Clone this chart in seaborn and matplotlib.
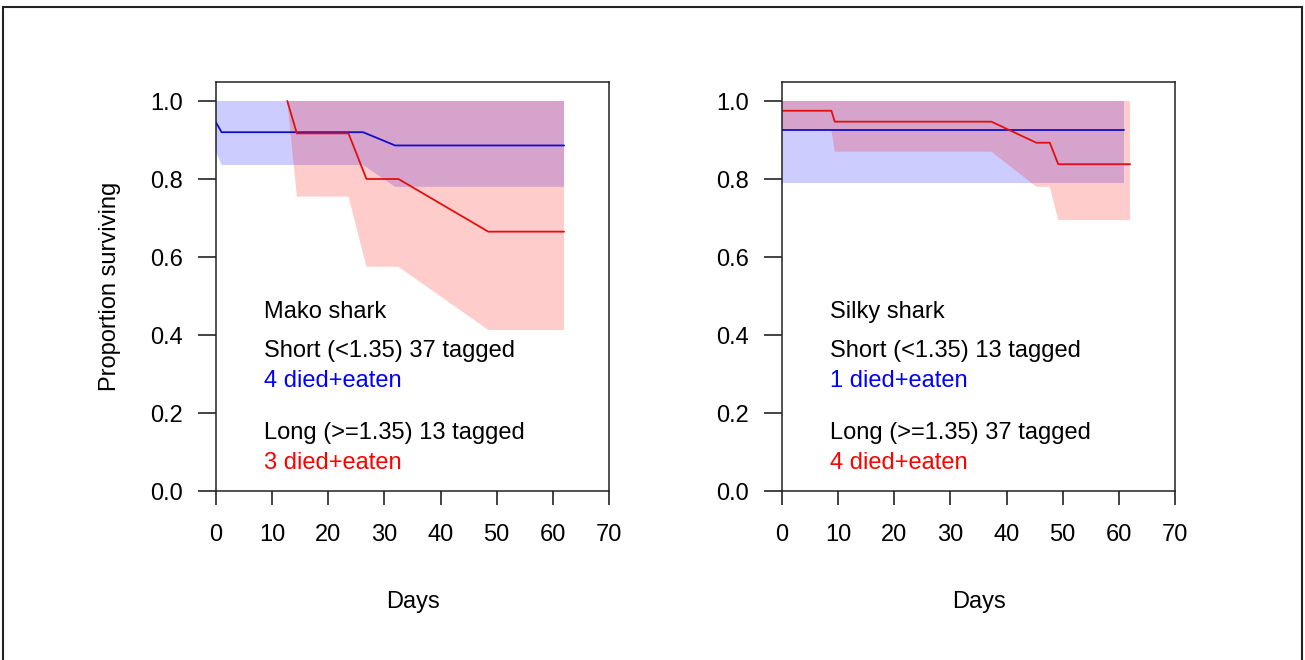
import numpy as np
import pandas as pd
import matplotlib
matplotlib.use("Agg")
import matplotlib.pyplot as plt
import seaborn as sns

# ---------------- data ----------------
# Mako shark, short group (blue)
mako_short_days = [0, 1, 26.2, 31.9, 62]
mako_short_surv = [0.945, 0.92, 0.92, 0.886, 0.886]
mako_short_lower = [0.87, 0.836, 0.836, 0.78, 0.78]
mako_short_upper = [1.0, 1.0, 1.0, 1.0, 1.0]

# Mako shark, long group (red)
mako_long_days = [12.7, 14.4, 23.6, 26.8, 32.5, 48.5, 62]
mako_long_surv = [1.0, 0.917, 0.917, 0.80, 0.80, 0.665, 0.665]
mako_long_lower = [1.0, 0.755, 0.755, 0.575, 0.575, 0.413, 0.413]
mako_long_upper = [1.0, 1.0, 1.0, 1.0, 1.0, 1.0, 1.0]

# Silky shark, short group (blue)
silky_short_days = [0, 61]
silky_short_surv = [0.926, 0.926]
silky_short_lower = [0.789, 0.789]
silky_short_upper = [1.0, 1.0]

# Silky shark, long group (red)
silky_long_days = [0, 8.8, 9.4, 37.3, 45.3, 47.7, 49.2, 62]
silky_long_surv = [0.975, 0.975, 0.947, 0.947, 0.893, 0.893, 0.838, 0.838]
silky_long_lower = [0.926, 0.926, 0.870, 0.870, 0.78, 0.78, 0.695, 0.695]
silky_long_upper = [1.0, 1.0, 1.0, 1.0, 1.0, 1.0, 1.0, 1.0]

mako_texts = ["Mako shark", "Short (<1.35) 37 tagged", "4 died+eaten",
              "Long (>=1.35) 13 tagged", "3 died+eaten"]
silky_texts = ["Silky shark", "Short (<1.35) 13 tagged", "1 died+eaten",
               "Long (>=1.35) 37 tagged", "4 died+eaten"]

x_ticks = [0, 10, 20, 30, 40, 50, 60, 70]
y_ticks = [0.0, 0.2, 0.4, 0.6, 0.8, 1.0]
x_label = "Days"
y_label = "Proportion surviving"

# ---------------- layout / style ----------------
sns.set_style("ticks")
plt.rcParams['font.family'] = ['Liberation Sans', 'DejaVu Sans']
plt.rcParams['text.color'] = 'black'
plt.rcParams['axes.labelcolor'] = 'black'
FS = 17
text_colors = ["black", "black", "blue", "black", "red"]
text_x = 8.5
text_y = [0.444, 0.344, 0.267, 0.133, 0.056]

W, H = 1305, 660
fig = plt.figure(figsize=(W / 100, H / 100), dpi=100)
fig.patch.set_facecolor("white")

ax_w = 393 / W
ax_h = 409.5 / H
ax_b = (H - 491) / H
ax1 = fig.add_axes([216 / W, ax_b, ax_w, ax_h])
ax2 = fig.add_axes([782 / W, ax_b, ax_w, ax_h])


def draw_panel(ax, sd, ss, sl, su, ld, ls, ll, lu, texts):
    ax.fill_between(sd, sl, su, color=(0, 0, 1, 0.2), edgecolor="none", lw=0)
    sns.lineplot(x=sd, y=ss, ax=ax, color="#1010c8", lw=1.3,
                 estimator=None, sort=False, legend=False)
    ax.fill_between(ld, ll, lu, color=(1, 0, 0, 0.2), edgecolor="none", lw=0)
    sns.lineplot(x=ld, y=ls, ax=ax, color="#e01010", lw=1.3,
                 estimator=None, sort=False, legend=False)
    for s, c, y in zip(texts, text_colors, text_y):
        ax.text(text_x, y, s, color=c, fontsize=FS, ha="left", va="baseline")

    ax.set_xlim(0, 70)
    ax.set_ylim(0, 1.05)
    ax.set_xticks(x_ticks)
    ax.set_xticklabels([str(t) for t in x_ticks])
    ax.set_yticks(y_ticks)
    ax.set_yticklabels([f"{t:.1f}" for t in y_ticks])
    ax.tick_params(axis="x", direction="out", length=10, width=1.1,
                   pad=14, labelsize=FS, color="#111111", labelcolor="black")
    ax.tick_params(axis="y", direction="out", length=13, width=1.1,
                   pad=11, labelsize=FS, color="#111111", labelcolor="black")
    for sp in ax.spines.values():
        sp.set_visible(True)
        sp.set_linewidth(1.1)
        sp.set_color("#222222")
    ax.set_xlabel(x_label, fontsize=FS, color="black")
    ax.xaxis.set_label_coords(0.5, -0.245)
    ax.set_facecolor("white")


draw_panel(ax1, mako_short_days, mako_short_surv, mako_short_lower, mako_short_upper,
           mako_long_days, mako_long_surv, mako_long_lower, mako_long_upper, mako_texts)
draw_panel(ax2, silky_short_days, silky_short_surv, silky_short_lower, silky_short_upper,
           silky_long_days, silky_long_surv, silky_long_lower, silky_long_upper, silky_texts)

ax1.set_ylabel(y_label, fontsize=FS, color="black")
ax1.yaxis.set_label_coords(-0.242, 0.5)
ax2.set_ylabel("")

# outer frame
fig.add_artist(plt.Rectangle((3 / W, -0.05), 1299 / W, 1.05 - 7 / H,
                             transform=fig.transFigure, fill=False,
                             edgecolor="#222222", lw=1.5))

fig.savefig("out.png", dpi=100)
